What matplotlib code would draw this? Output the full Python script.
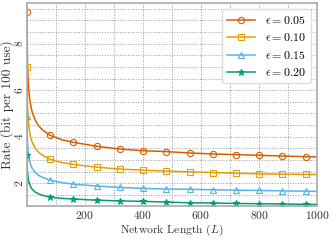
import matplotlib
matplotlib.use("Agg")
import matplotlib.pyplot as plt
from matplotlib.ticker import MultipleLocator

plt.rcParams['font.family'] = 'serif'
plt.rcParams['font.serif'] = ['cmr10']
plt.rcParams['mathtext.fontset'] = 'cm'
plt.rcParams['axes.formatter.use_mathtext'] = True
plt.rcParams['font.size'] = 8.3

# network length
L = [1, 3, 6, 10, 15, 20, 30, 40, 55, 81, 121, 161, 241, 321, 401, 481,
     561, 641, 721, 801, 881, 961, 1000]
# indices of L that carry a marker (L = 1, 81, 161, ..., 961)
mark_idx = [0, 9, 11, 12, 13, 14, 15, 16, 17, 18, 19, 20, 21]

rate_05 = [9.36, 7.26, 6.27, 5.68, 5.30, 5.03, 4.71, 4.49, 4.29, 4.06, 3.87, 3.76,
           3.59, 3.47, 3.40, 3.36, 3.30, 3.26, 3.23, 3.20, 3.17, 3.14, 3.13]
rate_10 = [6.99, 5.42, 4.68, 4.24, 3.93, 3.74, 3.51, 3.35, 3.20, 3.03, 2.89, 2.81,
           2.69, 2.61, 2.56, 2.52, 2.49, 2.46, 2.43, 2.40, 2.39, 2.38, 2.37]
rate_15 = [4.88, 3.79, 3.28, 2.97, 2.76, 2.63, 2.46, 2.35, 2.25, 2.13, 2.03, 1.96,
           1.88, 1.82, 1.78, 1.75, 1.74, 1.72, 1.70, 1.69, 1.67, 1.66, 1.65]
rate_20 = [3.23, 2.50, 2.16, 1.96, 1.82, 1.73, 1.62, 1.55, 1.48, 1.40, 1.35, 1.32,
           1.27, 1.24, 1.22, 1.19, 1.16, 1.15, 1.13, 1.12, 1.11, 1.09, 1.09]

labels = [r'$\epsilon = 0.05$', r'$\epsilon = 0.10$', r'$\epsilon = 0.15$', r'$\epsilon = 0.20$']
colors = ['#D55E00', '#E69F00', '#56B4E9', '#009E73']
markers = ['o', 's', '^', '*']

fig = plt.figure(figsize=(3.32, 2.47), dpi=100)
ax = fig.add_axes([0.080, 0.164, 0.875, 0.824])

for ys, lab, c, m in zip([rate_05, rate_10, rate_15, rate_20], labels, colors, markers):
    filled = (m == '*')
    ax.plot(L, ys, color=c, lw=1.1, marker=m, markevery=mark_idx,
            markersize=4.5,
            markerfacecolor=c if filled else 'none', markeredgewidth=0.8,
            label=lab)

ax.set_xlim(0, 1000)
ax.set_ylim(1.0, 9.75)
ax.xaxis.set_major_locator(MultipleLocator(200))
ax.xaxis.set_minor_locator(MultipleLocator(100))
ax.yaxis.set_major_locator(MultipleLocator(2))
ax.yaxis.set_minor_locator(MultipleLocator(0.5))
ax.set_xticks([200, 400, 600, 800, 1000])
ax.grid(True, which='both', color='#999999', linestyle=':', linewidth=0.7)
ax.tick_params(which='both', direction='in', length=0, colors='#333333', pad=2)
ax.tick_params(axis='y', pad=1)
for lab in ax.get_yticklabels():
    lab.set_rotation(90)
    lab.set_va('center')
for s in ax.spines.values():
    s.set_color('#aaaaaa')
    s.set_linewidth(1.2)

ax.set_xlabel(r'Network Length ($L$)', labelpad=1, color='#333333')
ax.set_ylabel('Rate (bit per 100 use)', color='#333333', fontsize=9.6)
ax.yaxis.set_label_coords(-0.040, 0.5)
ax.yaxis.label.set_va('top')
ax.yaxis.label.set_x(-0.091)
ax.yaxis.set_label_coords(-0.091, 0.5)
ax.legend(loc='upper right', bbox_to_anchor=(0.978, 0.969), borderaxespad=0,
          fontsize=8.6, handlelength=2.4, handletextpad=0.8,
          framealpha=1, edgecolor='#dddddd', labelspacing=0.45, borderpad=0.4)

fig.savefig('out.png', dpi=100)
